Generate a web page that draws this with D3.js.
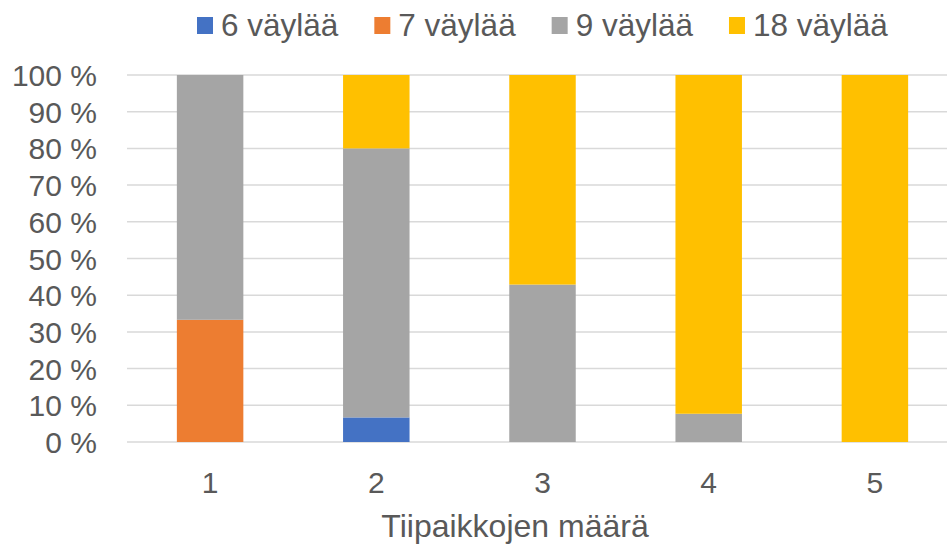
<!DOCTYPE html>
<html>
<head>
    <script src="https://d3js.org/d3.v7.min.js"></script>
    <style>
        body { margin: 0; background: #fff; font-family: "Liberation Sans", Arial, sans-serif; }
    </style>
</head>
<body>
    <div id="chart"></div>
    <script>
        var categories = ["1", "2", "3", "4", "5"];
        var seriesNames = ["6 väylää", "7 väylää", "9 väylää", "18 väylää"];
        var seriesColors = ["#4472c4", "#ed7d31", "#a5a5a5", "#ffc000"];
        // percentage shares per category, one array per series
        var s6 = [0, 6.7, 0, 0, 0];
        var s7 = [33.3, 0, 0, 0, 0];
        var s9 = [66.7, 73.3, 42.9, 7.7, 0];
        var s18 = [0, 20, 57.1, 92.3, 100];
        var yTicks = [0, 10, 20, 30, 40, 50, 60, 70, 80, 90, 100];

        var width = 947, height = 545;
        var plotLeft = 127, plotRight = 958, plotTop = 75, plotBottom = 442;

        var svg = d3.select("#chart").append("svg")
            .attr("width", width).attr("height", height);

        var x = d3.scaleBand().domain(categories).range([plotLeft, plotRight]).paddingInner(0.6).paddingOuter(0.3);
        var y = d3.scaleLinear().domain([0, 100]).range([plotBottom, plotTop]);

        // gridlines
        svg.append("g").selectAll("line").data(yTicks).join("line")
            .attr("x1", plotLeft).attr("x2", plotRight)
            .attr("y1", d => y(d)).attr("y2", d => y(d))
            .attr("stroke", "#d9d9d9").attr("stroke-width", 1.5);

        // stacked bars
        var rows = categories.map((c, i) => ({ cat: c, s0: s6[i], s1: s7[i], s2: s9[i], s3: s18[i] }));
        var stack = d3.stack().keys(["s0", "s1", "s2", "s3"])(rows);
        svg.append("g").selectAll("g").data(stack).join("g")
            .attr("fill", (d, i) => seriesColors[i])
            .selectAll("rect").data(d => d).join("rect")
            .attr("x", d => x(d.data.cat))
            .attr("width", x.bandwidth())
            .attr("y", d => y(d[1]))
            .attr("height", d => y(d[0]) - y(d[1]));

        // y axis labels
        svg.append("g").selectAll("text").data(yTicks).join("text")
            .attr("x", 97).attr("y", d => y(d) + 11)
            .attr("text-anchor", "end")
            .attr("font-size", 30).attr("fill", "#595959")
            .text(d => d + " %");

        // x axis labels
        svg.append("g").selectAll("text").data(categories).join("text")
            .attr("x", d => x(d) + x.bandwidth() / 2).attr("y", 493)
            .attr("text-anchor", "middle")
            .attr("font-size", 30).attr("fill", "#595959")
            .text(d => d);

        svg.append("text")
            .attr("x", 515).attr("y", 537)
            .attr("text-anchor", "middle")
            .attr("font-size", 32).attr("fill", "#595959")
            .text("Tiipaikkojen määrä");

        // legend
        var legend = svg.append("g");
        var lx = 197;
        seriesNames.forEach((name, i) => {
            legend.append("rect").attr("x", lx).attr("y", 17).attr("width", 16).attr("height", 17)
                .attr("fill", seriesColors[i]);
            var t = legend.append("text").attr("x", lx + 24).attr("y", 36)
                .attr("font-size", 31.5).attr("fill", "#595959").text(name);
            lx += 24 + t.node().getComputedTextLength() + 36;
        });
    </script>
</body>
</html>
